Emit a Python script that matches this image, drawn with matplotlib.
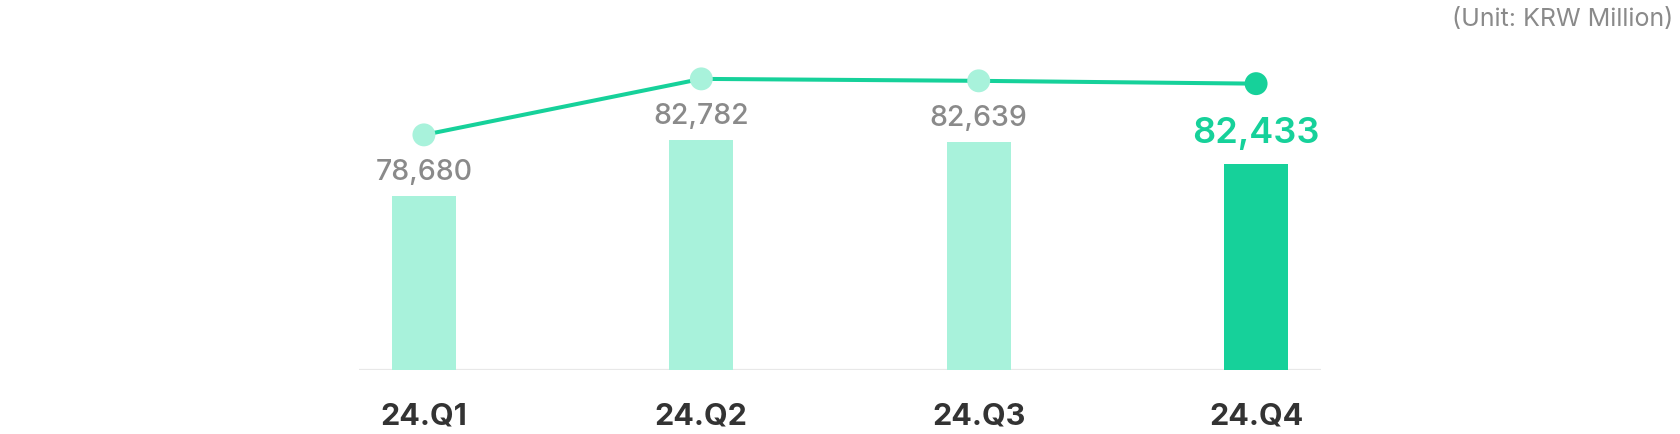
import matplotlib
matplotlib.use("Agg")
import matplotlib.pyplot as plt
from matplotlib.transforms import blended_transform_factory

# ---- data ----
categories = ["24.Q1", "24.Q2", "24.Q3", "24.Q4"]
line_values = [78680, 82782, 82639, 82433]
bar_values = [78680, 82782, 82639, 81030]
value_labels = ["78,680", "82,782", "82,639", "82,433"]
unit_text = "(Unit: KRW Million)"

LIGHT = "#A8F2DB"
DARK = "#16D19A"
GRAY = "#8A8A8A"

plt.rcParams["font.family"] = ["Inter", "DejaVu Sans"]

W, H = 1680, 434
fig = plt.figure(figsize=(W / 100, H / 100), dpi=100)
ax = fig.add_axes([359 / W, (H - 370) / H, 962 / W, 370 / H])

ymin, ymax = 65935, 93041
ax.set_ylim(ymin, ymax)
ax.set_xlim(-0.234, 3.234)

x = list(range(len(categories)))
colors = [LIGHT, LIGHT, LIGHT, DARK]
ax.bar(x, [v - ymin for v in bar_values], bottom=ymin, width=0.231,
       color=colors, zorder=2)

# line on twin axis (same scale, shifted up)
ax2 = ax.twinx()
shift = 4480
ax2.set_ylim(ymin - shift, ymax - shift)
ax2.set_xlim(ax.get_xlim())
ax2.plot(x, line_values, color=DARK, lw=2.9, zorder=3, solid_capstyle="round")
ax2.scatter(x, line_values, s=16.5 ** 2, c=colors, zorder=4, linewidths=0)

# value labels
for i, (bv, lab) in enumerate(zip(bar_values, value_labels)):
    if i == len(categories) - 1:
        ax.annotate(lab, (i, bv), xytext=(0, 15), textcoords="offset points",
                    ha="center", va="baseline", fontsize=26, color=DARK,
                    fontweight="semibold")
    else:
        ax.annotate(lab, (i, bv), xytext=(0, 11.5), textcoords="offset points",
                    ha="center", va="baseline", fontsize=20.5, color=GRAY,
                    fontweight="medium")

# category labels
trans = blended_transform_factory(ax.transData, ax.transAxes)
for i, c in enumerate(categories):
    ax.text(i, -54 / 370, c, transform=trans, ha="center", va="baseline",
            fontsize=22, fontweight="bold", color="#333333")

# baseline
ax.axhline(ymin, color="#E8E8E8", lw=1.6, zorder=1)

for a in (ax, ax2):
    for s in a.spines.values():
        s.set_visible(False)
    a.set_xticks([])
    a.set_yticks([])
    a.patch.set_visible(False)

fig.text(1673 / W, (H - 26) / H, unit_text, ha="right", va="baseline",
         fontsize=18, color=GRAY)

fig.savefig("out.png", dpi=100)
